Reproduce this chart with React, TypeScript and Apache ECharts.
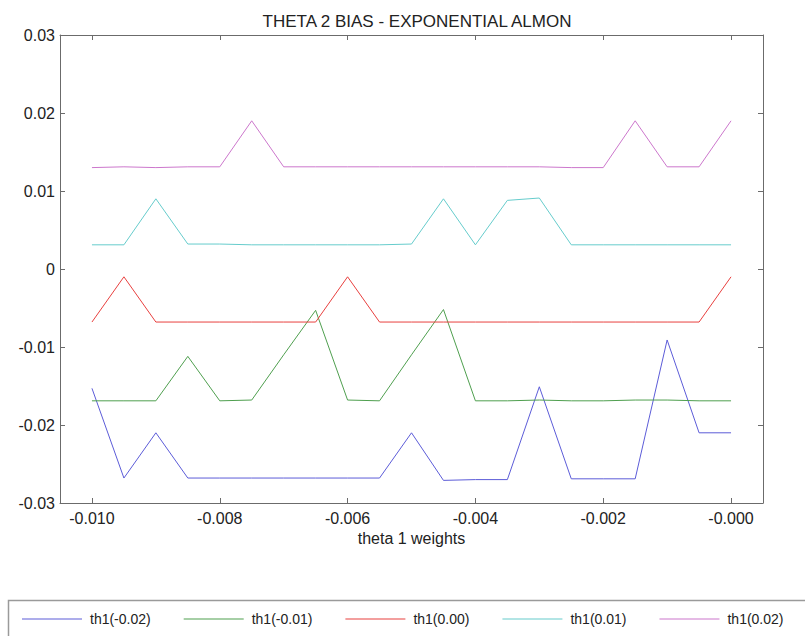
import React, { useEffect, useRef } from "react";
import * as echarts from "echarts";

const xValues = [
  -0.01, -0.0095, -0.009, -0.0085, -0.008, -0.0075, -0.007, -0.0065, -0.006, -0.0055, -0.005,
  -0.0045, -0.004, -0.0035, -0.003, -0.0025, -0.002, -0.0015, -0.001, -0.0005, 0,
];

const seriesNames = ["th1(-0.02)", "th1(-0.01)", "th1(0.00)", "th1(0.01)", "th1(0.02)"];

const thM002 = [
  -0.0153, -0.0268, -0.021, -0.0268, -0.0268, -0.0268, -0.0268, -0.0268, -0.0268, -0.0268, -0.021,
  -0.0271, -0.027, -0.027, -0.0151, -0.0269, -0.0269, -0.0269, -0.0091, -0.021, -0.021,
];
const thM001 = [
  -0.0169, -0.0169, -0.0169, -0.0112, -0.0169, -0.0168, -0.011, -0.0053, -0.0168, -0.0169, -0.011,
  -0.0052, -0.0169, -0.0169, -0.0168, -0.0169, -0.0169, -0.0168, -0.0168, -0.0169, -0.0169,
];
const th000 = [
  -0.0068, -0.001, -0.0068, -0.0068, -0.0068, -0.0068, -0.0068, -0.0068, -0.001, -0.0068, -0.0068,
  -0.0068, -0.0068, -0.0068, -0.0068, -0.0068, -0.0068, -0.0068, -0.0068, -0.0068, -0.001,
];
const th001 = [
  0.0031, 0.0031, 0.009, 0.0032, 0.0032, 0.0031, 0.0031, 0.0031, 0.0031, 0.0031, 0.0032,
  0.009, 0.0031, 0.0088, 0.0091, 0.0031, 0.0031, 0.0031, 0.0031, 0.0031, 0.0031,
];
const th002 = [
  0.013, 0.0131, 0.013, 0.0131, 0.0131, 0.019, 0.0131, 0.0131, 0.0131, 0.0131, 0.0131,
  0.0131, 0.0131, 0.0131, 0.0131, 0.013, 0.013, 0.019, 0.0131, 0.0131, 0.019,
];

const seriesValues = [thM002, thM001, th000, th001, th002];
const seriesColors = ["#5c5cd8", "#4f9f4f", "#e8403f", "#66cccc", "#cc77cc"];

const xTicks = [-0.01, -0.008, -0.006, -0.004, -0.002, 0];
const xTickLabels = ["-0.010", "-0.008", "-0.006", "-0.004", "-0.002", "-0.000"];
const yTicks = [-0.03, -0.02, -0.01, 0, 0.01, 0.02, 0.03];
const yTickLabels = ["-0.03", "-0.02", "-0.01", "0", "0.01", "0.02", "0.03"];

const FONT = "Liberation Sans, Arial, sans-serif";
const AXIS_COLOR = "#6b6b6b";

export default function App() {
  const ref = useRef<HTMLDivElement>(null);
  useEffect(() => {
    if (!ref.current) return;
    const chart = echarts.init(ref.current, undefined, { renderer: "svg" });
    const xLabel = (v: number) => {
      const i = xTicks.findIndex((t) => Math.abs(t - v) < 1e-9);
      return i >= 0 ? xTickLabels[i] : "";
    };
    const yLabel = (v: number) => {
      const i = yTicks.findIndex((t) => Math.abs(t - v) < 1e-9);
      return i >= 0 ? yTickLabels[i] : "";
    };
    const axisCommon = {
      axisLine: { show: true, onZero: false, lineStyle: { color: AXIS_COLOR, width: 1 } },
      axisTick: { show: true, inside: true, length: 5, lineStyle: { color: AXIS_COLOR } },
      splitLine: { show: false },
    };
    chart.setOption({
      animation: false,
      backgroundColor: "#ffffff",
      title: {
        text: "THETA 2 BIAS - EXPONENTIAL ALMON",
        left: 412,
        textAlign: "center",
        top: 8,
        textStyle: { fontFamily: FONT, fontSize: 17, fontWeight: "normal", color: "#222" },
      },
      grid: { left: 60, top: 35, width: 703, height: 468 },
      xAxis: [
        {
          type: "value",
          min: -0.0105,
          max: 0.0005,
          position: "bottom",
          ...axisCommon,
          axisTick: { ...axisCommon.axisTick, customValues: xTicks },
          axisLabel: {
            customValues: xTicks,
            formatter: xLabel,
            fontFamily: FONT,
            fontSize: 16,
            color: "#222",
            margin: 7,
          },
          name: "theta 1 weights",
          nameLocation: "middle",
          nameGap: 27,
          nameTextStyle: { fontFamily: FONT, fontSize: 16, color: "#222" },
        },
        {
          type: "value",
          min: -0.0105,
          max: 0.0005,
          position: "top",
          ...axisCommon,
          axisTick: { ...axisCommon.axisTick, customValues: xTicks },
          axisLabel: { show: false },
        },
      ],
      yAxis: [
        {
          type: "value",
          min: -0.03,
          max: 0.03,
          interval: 0.01,
          position: "left",
          ...axisCommon,
          axisLabel: {
            formatter: yLabel,
            fontFamily: FONT,
            fontSize: 16,
            color: "#222",
            margin: 5,
          },
        },
        {
          type: "value",
          min: -0.03,
          max: 0.03,
          interval: 0.01,
          position: "right",
          ...axisCommon,
          axisLabel: { show: false },
        },
      ],
      legend: {
        left: 22,
        top: 612,
        padding: 0,
        itemWidth: 60,
        itemHeight: 1,
        itemGap: 33,
        icon: "rect",
        textStyle: { fontFamily: FONT, fontSize: 14, color: "#222", padding: [0, 0, 0, 3] },
        data: seriesNames,
      },
      graphic: [
        {
          type: "rect",
          shape: { x: 8.5, y: 600.5, width: 820, height: 60 },
          style: { fill: "none", stroke: "#9a9a9a", lineWidth: 1.5 },
          silent: true,
        },
      ],
      series: seriesNames.map((name, s) => ({
        name,
        type: "line",
        xAxisIndex: 0,
        yAxisIndex: 0,
        symbol: "none",
        showSymbol: false,
        color: seriesColors[s],
        lineStyle: { width: 1, color: seriesColors[s] },
        data: xValues.map((x, i) => [x, seriesValues[s][i]]),
      })),
    });
    return () => chart.dispose();
  }, []);
  return (
    <div
      ref={ref}
      style={{ position: "absolute", left: 0, top: 0, width: 805, height: 636 }}
    />
  );
}
